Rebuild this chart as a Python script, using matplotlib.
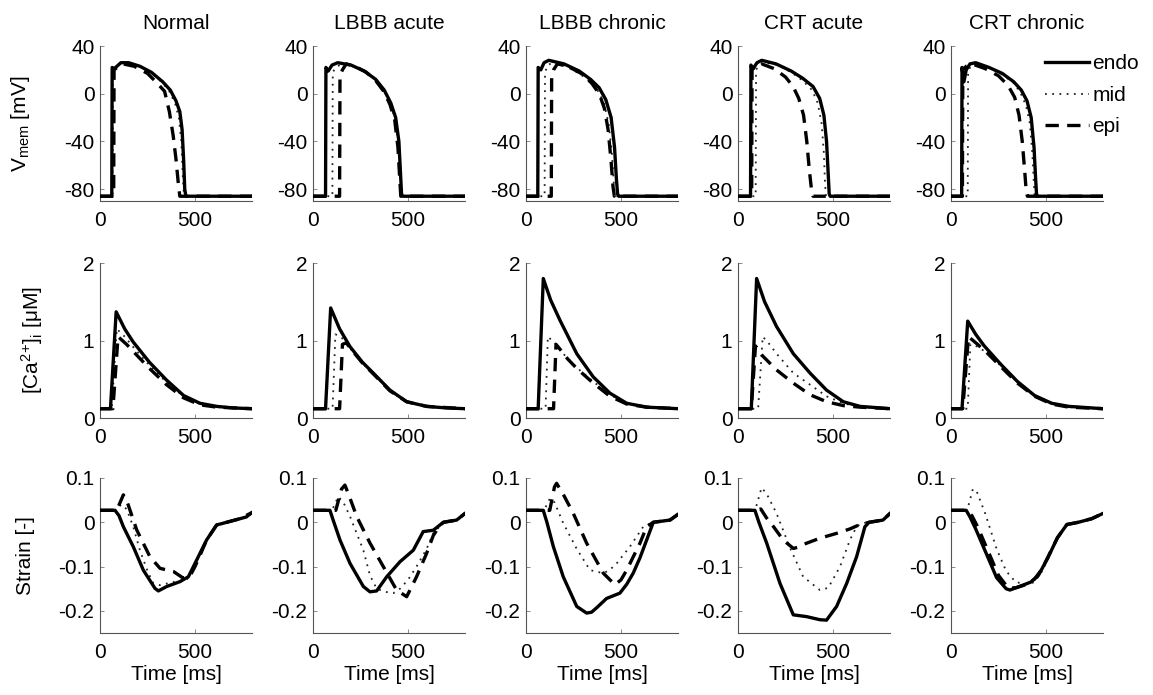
import numpy as np
import matplotlib
matplotlib.use("Agg")
from matplotlib import pyplot as plt

plt.rcParams['font.family'] = ['Liberation Sans', 'DejaVu Sans']
plt.rcParams['mathtext.fontset'] = 'custom'
plt.rcParams['mathtext.rm'] = 'Liberation Sans'
plt.rcParams['mathtext.it'] = 'Liberation Sans:italic'

conditions = ["Normal", "LBBB acute", "LBBB chronic", "CRT acute", "CRT chronic"]
layers = ["endo", "mid", "epi"]

# membrane potential [mV], (time ms, value)
v_normal_endo = [(0,-86),(62,-86),(64,22),(75,21),(110,26),(150,26),(210,23),(270,18),(330,10),(370,3),(400,-6),(420,-15),(432,-30),(440,-55),(446,-80),(452,-86),(800,-86)]
v_normal_mid = [(0,-86),(66,-86),(68,22),(80,21),(115,26),(160,25),(220,22),(280,16),(330,9),(365,2),(395,-8),(415,-20),(428,-40),(436,-70),(442,-86),(800,-86)]
v_normal_epi = [(0,-86),(72,-86),(74,20),(90,22),(120,25),(180,23),(250,17),(300,9),(340,2),(365,-15),(385,-35),(400,-55),(412,-75),(420,-86),(800,-86)]

v_lbbb_ac_endo = [(0,-86),(66,-86),(68,22),(80,19),(100,24),(130,26),(200,24),(270,19),(330,12),(375,3),(410,-8),(435,-20),(452,-40),(460,-65),(466,-84),(472,-86),(800,-86)]
v_lbbb_ac_mid = [(0,-86),(102,-86),(104,18),(120,22),(150,25),(210,23),(280,18),(330,11),(375,2),(410,-9),(433,-22),(450,-45),(458,-70),(464,-86),(800,-86)]
v_lbbb_ac_epi = [(0,-86),(140,-86),(142,15),(155,20),(175,25),(220,23),(280,18),(330,11),(372,2),(405,-9),(430,-22),(447,-45),(456,-70),(462,-86),(800,-86)]

v_lbbb_ch_endo = [(0,-86),(62,-86),(64,22),(78,20),(95,26),(120,28),(200,25),(280,19),(340,12),(385,5),(420,-5),(448,-20),(466,-45),(476,-72),(482,-84),(488,-86),(800,-86)]
v_lbbb_ch_mid = [(0,-86),(98,-86),(100,18),(115,24),(140,26),(210,23),(280,17),(340,10),(380,2),(410,-8),(435,-25),(452,-50),(462,-75),(468,-86),(800,-86)]
v_lbbb_ch_epi = [(0,-86),(133,-86),(135,15),(145,20),(165,25),(220,23),(290,17),(345,9),(385,0),(412,-12),(432,-30),(447,-55),(458,-78),(465,-86),(800,-86)]

v_crt_ac_endo = [(0,-86),(66,-86),(68,24),(80,21),(100,26),(125,28),(200,25),(280,19),(340,13),(395,6),(430,-4),(452,-18),(466,-40),(474,-65),(480,-84),(485,-86),(800,-86)]
v_crt_ac_mid = [(0,-86),(93,-86),(95,20),(110,24),(140,26),(210,24),(280,18),(340,11),(390,3),(420,-8),(440,-25),(452,-50),(458,-75),(463,-86),(800,-86)]
v_crt_ac_epi = [(0,-86),(72,-86),(74,20),(95,24),(125,25),(190,21),(250,14),(290,6),(320,-4),(345,-18),(362,-40),(376,-65),(388,-82),(395,-86),(800,-86)]

v_crt_ch_endo = [(0,-86),(56,-86),(58,22),(68,10),(80,20),(100,25),(130,26),(200,22),(270,17),(330,10),(370,3),(400,-6),(422,-20),(437,-45),(445,-70),(450,-84),(455,-86),(800,-86)]
v_crt_ch_mid = [(0,-86),(88,-86),(90,18),(105,24),(130,25),(200,22),(270,16),(330,9),(365,1),(395,-10),(415,-25),(428,-50),(436,-75),(440,-86),(800,-86)]
v_crt_ch_epi = [(0,-86),(60,-86),(62,20),(80,23),(110,25),(180,21),(250,15),(300,7),(335,-3),(358,-18),(375,-40),(388,-65),(396,-82),(402,-86),(800,-86)]

# intracellular calcium [uM]
ca_normal_endo = [(0,0.12),(55,0.12),(85,1.37),(130,1.15),(175,0.98),(260,0.72),(350,0.49),(440,0.29),(526,0.19),(614,0.15),(700,0.13),(800,0.12)]
ca_normal_mid = [(0,0.12),(62,0.12),(88,1.15),(130,1.05),(180,0.9),(260,0.68),(350,0.46),(440,0.28),(526,0.18),(614,0.14),(800,0.12)]
ca_normal_epi = [(0,0.12),(68,0.12),(95,1.05),(140,0.95),(190,0.82),(260,0.64),(350,0.43),(440,0.26),(526,0.17),(614,0.14),(800,0.12)]

ca_lbbb_ac_endo = [(0,0.12),(66,0.12),(93,1.42),(140,1.15),(195,0.92),(260,0.72),(317,0.58),(405,0.36),(493,0.21),(598,0.15),(700,0.13),(800,0.12)]
ca_lbbb_ac_mid = [(0,0.12),(103,0.12),(118,1.08),(150,1.04),(195,0.9),(260,0.71),(317,0.57),(405,0.35),(493,0.21),(598,0.15),(800,0.12)]
ca_lbbb_ac_epi = [(0,0.12),(140,0.12),(155,0.95),(175,0.97),(210,0.86),(260,0.71),(317,0.57),(405,0.35),(493,0.21),(598,0.15),(800,0.12)]

ca_lbbb_ch_endo = [(0,0.12),(64,0.12),(91,1.8),(130,1.52),(179,1.26),(267,0.83),(354,0.53),(442,0.32),(530,0.19),(635,0.14),(800,0.12)]
ca_lbbb_ch_mid = [(0,0.12),(103,0.12),(115,1.05),(150,0.97),(200,0.82),(267,0.65),(354,0.47),(442,0.3),(530,0.19),(635,0.14),(800,0.12)]
ca_lbbb_ch_epi = [(0,0.12),(145,0.12),(158,0.95),(175,0.9),(220,0.76),(267,0.64),(354,0.45),(442,0.28),(530,0.18),(635,0.14),(800,0.12)]

ca_crt_ac_endo = [(0,0.12),(70,0.12),(98,1.8),(140,1.5),(203,1.18),(291,0.83),(379,0.58),(466,0.36),(554,0.21),(642,0.15),(800,0.12)]
ca_crt_ac_mid = [(0,0.12),(106,0.12),(130,1.05),(160,0.97),(203,0.83),(291,0.58),(379,0.43),(466,0.28),(554,0.19),(642,0.14),(800,0.12)]
ca_crt_ac_epi = [(0,0.12),(70,0.12),(92,0.93),(130,0.8),(203,0.62),(291,0.45),(379,0.3),(466,0.21),(554,0.16),(642,0.14),(800,0.12)]

ca_crt_ch_endo = [(0,0.12),(58,0.12),(88,1.25),(130,1.08),(175,0.93),(263,0.69),(350,0.47),(440,0.29),(530,0.19),(620,0.15),(800,0.12)]
ca_crt_ch_mid = [(0,0.12),(88,0.12),(102,0.95),(140,0.92),(190,0.84),(263,0.67),(350,0.46),(440,0.28),(530,0.18),(620,0.14),(800,0.12)]
ca_crt_ch_epi = [(0,0.12),(62,0.12),(92,1.05),(140,0.95),(190,0.84),(263,0.66),(350,0.45),(440,0.28),(530,0.18),(620,0.14),(800,0.12)]

# fiber strain [-]
s_normal_endo = [(0,0.027),(79,0.027),(100,0.015),(123,-0.01),(175,-0.055),(228,-0.108),(289,-0.149),(307,-0.155),(351,-0.145),(421,-0.134),(465,-0.123),(509,-0.085),(561,-0.04),(614,-0.006),(667,0.0),(736,0.008),(770,0.012),(800,0.022)]
s_normal_mid = [(0,0.027),(85,0.027),(110,0.04),(140,0.03),(175,-0.01),(210,-0.063),(250,-0.11),(280,-0.137),(315,-0.142),(386,-0.135),(456,-0.13),(490,-0.11),(520,-0.075),(561,-0.04),(614,-0.006),(667,0.0),(736,0.008),(800,0.022)]
s_normal_epi = [(0,0.027),(88,0.027),(123,0.062),(140,0.05),(193,-0.017),(263,-0.078),(316,-0.104),(386,-0.111),(438,-0.126),(473,-0.122),(500,-0.1),(526,-0.075),(561,-0.04),(614,-0.006),(667,0.0),(736,0.008),(800,0.022)]

s_lbbb_ac_endo = [(0,0.027),(89,0.027),(110,0.0),(142,-0.04),(195,-0.093),(265,-0.145),(300,-0.157),(335,-0.155),(388,-0.123),(458,-0.089),(528,-0.063),(580,-0.021),(633,-0.018),(686,0.0),(756,0.005),(800,0.02)]
s_lbbb_ac_mid = [(0,0.027),(100,0.027),(133,0.058),(160,0.045),(195,0.013),(230,-0.025),(265,-0.063),(300,-0.12),(335,-0.15),(380,-0.157),(423,-0.16),(458,-0.15),(500,-0.13),(545,-0.1),(598,-0.06),(633,-0.025),(686,0.0),(756,0.005),(800,0.02)]
s_lbbb_ac_epi = [(0,0.027),(120,0.027),(150,0.075),(168,0.084),(190,0.06),(230,0.013),(300,-0.047),(370,-0.1),(440,-0.153),(493,-0.168),(545,-0.123),(598,-0.07),(633,-0.03),(660,-0.012),(686,0.0),(756,0.005),(800,0.02)]

s_lbbb_ch_endo = [(0,0.027),(91,0.027),(110,0.0),(144,-0.055),(196,-0.123),(267,-0.19),(319,-0.205),(345,-0.203),(372,-0.193),(424,-0.172),(494,-0.16),(530,-0.14),(564,-0.115),(600,-0.08),(635,-0.04),(670,0.0),(758,0.005),(800,0.018)]
s_lbbb_ch_mid = [(0,0.027),(95,0.027),(126,0.054),(150,0.045),(196,-0.002),(267,-0.06),(337,-0.108),(407,-0.115),(440,-0.108),(477,-0.093),(547,-0.055),(617,-0.01),(670,0.0),(758,0.005),(800,0.018)]
s_lbbb_ch_epi = [(0,0.027),(125,0.027),(150,0.08),(161,0.088),(200,0.06),(249,0.02),(319,-0.047),(407,-0.115),(468,-0.141),(500,-0.13),(530,-0.108),(600,-0.047),(635,-0.01),(670,0.0),(758,0.005),(800,0.018)]

s_crt_ac_endo = [(0,0.027),(89,0.027),(110,0.0),(151,-0.047),(221,-0.138),(291,-0.209),(361,-0.213),(431,-0.22),(466,-0.221),(519,-0.19),(572,-0.138),(624,-0.078),(668,-0.01),(690,0.0),(763,0.005),(800,0.02)]
s_crt_ac_mid = [(0,0.027),(90,0.027),(124,0.078),(150,0.065),(203,0.02),(273,-0.057),(343,-0.123),(431,-0.153),(475,-0.148),(537,-0.1),(589,-0.04),(624,-0.01),(650,-0.002),(690,0.0),(763,0.005),(800,0.02)]
s_crt_ac_epi = [(0,0.027),(89,0.027),(120,0.03),(150,0.01),(187,-0.01),(238,-0.04),(291,-0.059),(320,-0.056),(344,-0.05),(431,-0.036),(519,-0.025),(589,-0.015),(642,-0.005),(690,0.0),(763,0.005),(800,0.02)]

s_crt_ch_endo = [(0,0.027),(80,0.027),(100,0.012),(130,-0.015),(180,-0.065),(240,-0.125),(290,-0.15),(310,-0.153),(360,-0.145),(420,-0.135),(460,-0.12),(510,-0.08),(560,-0.035),(610,-0.005),(670,0.0),(740,0.008),(800,0.02)]
s_crt_ch_mid = [(0,0.027),(85,0.027),(115,0.075),(135,0.07),(180,0.02),(240,-0.06),(290,-0.11),(340,-0.135),(400,-0.14),(440,-0.135),(480,-0.11),(520,-0.075),(560,-0.035),(610,-0.005),(670,0.0),(740,0.008),(800,0.02)]
s_crt_ch_epi = [(0,0.027),(82,0.027),(110,0.015),(140,-0.01),(190,-0.06),(250,-0.12),(300,-0.148),(340,-0.148),(400,-0.14),(440,-0.128),(480,-0.105),(520,-0.07),(560,-0.035),(610,-0.005),(670,0.0),(740,0.008),(800,0.02)]

vmem = [
    [v_normal_endo, v_normal_mid, v_normal_epi],
    [v_lbbb_ac_endo, v_lbbb_ac_mid, v_lbbb_ac_epi],
    [v_lbbb_ch_endo, v_lbbb_ch_mid, v_lbbb_ch_epi],
    [v_crt_ac_endo, v_crt_ac_mid, v_crt_ac_epi],
    [v_crt_ch_endo, v_crt_ch_mid, v_crt_ch_epi],
]
calcium = [
    [ca_normal_endo, ca_normal_mid, ca_normal_epi],
    [ca_lbbb_ac_endo, ca_lbbb_ac_mid, ca_lbbb_ac_epi],
    [ca_lbbb_ch_endo, ca_lbbb_ch_mid, ca_lbbb_ch_epi],
    [ca_crt_ac_endo, ca_crt_ac_mid, ca_crt_ac_epi],
    [ca_crt_ch_endo, ca_crt_ch_mid, ca_crt_ch_epi],
]
strain = [
    [s_normal_endo, s_normal_mid, s_normal_epi],
    [s_lbbb_ac_endo, s_lbbb_ac_mid, s_lbbb_ac_epi],
    [s_lbbb_ch_endo, s_lbbb_ch_mid, s_lbbb_ch_epi],
    [s_crt_ac_endo, s_crt_ac_mid, s_crt_ac_epi],
    [s_crt_ch_endo, s_crt_ch_mid, s_crt_ch_epi],
]

styles = {
    "endo": dict(color="black", lw=2.4, ls="-", zorder=4),
    "mid": dict(color="#222222", lw=1.3, ls=(0, (1, 3)), zorder=3),
    "epi": dict(color="black", lw=2.4, ls=(0, (4, 2.5)), zorder=3),
}

rows = [
    (vmem, (-90, 40), [-80, -40, 0, 40], ["-80", "-40", "0", "40"], "V$_{\\mathrm{mem}}$ [mV]", -0.45),
    (calcium, (0, 2), [0, 1, 2], ["0", "1", "2"], "[Ca$^{2}$$^{+}$]$_{\\mathrm{i}}$ [μM]", -0.36),
    (strain, (-0.25, 0.1), [-0.2, -0.1, 0, 0.1], ["-0.2", "-0.1", "0", "0.1"], "Strain [-]", -0.43),
]

FS = 15
W, H = 1153, 695
fig = plt.figure(figsize=(W / 100, H / 100), dpi=100)

col_left = [100, 313, 526, 738, 951]
row_bottom = [201, 418, 633]
ax_w, ax_h = 152, 155

for r, (data, ylim, yt, ytl, ylab, labx) in enumerate(rows):
    for c in range(5):
        ax = fig.add_axes([col_left[c] / W, 1 - row_bottom[r] / H, ax_w / W, ax_h / H])
        handles = []
        for name, curve in zip(layers, data[c]):
            t, y = np.array(curve).T
            h, = ax.plot(t, y, label=name, **styles[name])
            handles.append(h)
        ax.set_xlim(0, 800)
        ax.set_ylim(*ylim)
        ax.set_xticks([0, 500])
        ax.set_yticks(yt)
        ax.set_yticklabels(ytl)
        ax.spines['top'].set_visible(False)
        ax.spines['right'].set_visible(False)
        for s in ['left', 'bottom']:
            ax.spines[s].set_color('#555555')
            ax.spines[s].set_linewidth(0.8)
        ax.tick_params(direction='in', length=3, width=0.6, color='#777777',
                       labelsize=FS, pad=4)
        ax.tick_params(axis='x', pad=7)
        if r == 0:
            ax.set_title(conditions[c], fontsize=FS, pad=12)
        if r == 2:
            ax.set_xlabel("Time [ms]", fontsize=FS, labelpad=2)
        if c == 0:
            ax.set_ylabel(ylab, fontsize=FS)
            ax.yaxis.set_label_coords(labx, 0.5)
        if r == 0 and c == 4:
            ax.legend(handles=handles, loc='upper left', bbox_to_anchor=(0.565, 1.0),
                      frameon=False, fontsize=FS, handlelength=2.1,
                      handletextpad=0.15, labelspacing=0.6, borderaxespad=0)

fig.savefig("out.png", dpi=100)
